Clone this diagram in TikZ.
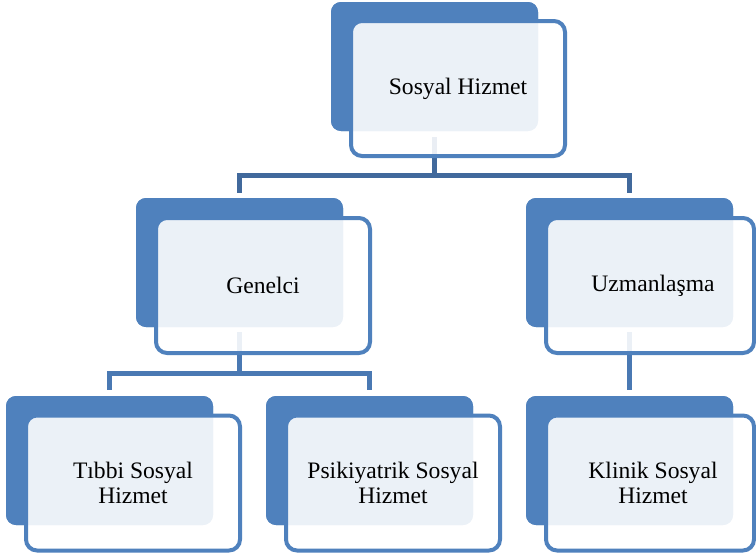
\documentclass[tikz,border=0pt]{standalone}
\usepackage{fontspec}
\setmainfont{Liberation Serif}
\usetikzlibrary{calc}
\definecolor{backblue}{HTML}{4F81BD}
\definecolor{connA}{HTML}{41699C}
\definecolor{connB}{HTML}{4A79B3}
\tikzset{
  backbox/.style={rectangle, rounded corners=10pt, fill=backblue, draw=none,
    minimum width=207pt, minimum height=129pt, inner sep=0pt, outer sep=0pt},
  frontbox/.style={rectangle, rounded corners=11pt, draw=backblue, line width=4pt,
    fill=white, fill opacity=0.89, text opacity=1,
    minimum height=135pt, inner sep=0pt, outer sep=0pt},
  lbl/.style={align=center, font=\fontsize{23.6}{24.5}\selectfont, text=black, inner sep=0pt},
  conn/.style={line width=5pt, line join=miter, line cap=butt},
}
\begin{document}
\begin{tikzpicture}[x=1pt,y=-1pt]
\fill[white] (0,0) rectangle (756,557);
\useasboundingbox (0,0) rectangle (756,557);

% back boxes (named, used for connectors)
\path (434.5,66.5) coordinate (c1);
\node[backbox] (b1) at (434.5,66.5) {};
\node[backbox] (b2) at (239.5,262.5) {};
\node[backbox] (b3) at (629.5,262.5) {};
\node[backbox] (b4) at (109.5,460.5) {};
\node[backbox] (b5) at (369.5,460.5) {};
\node[backbox] (b6) at (629.5,460.5) {};

% connectors
\draw[conn, connA] ($(b1.south)+(0,6)$) -- ++(0,38.5) -| ($(b2.north)+(0,-5)$);
\draw[conn, connA] ($(b1.south)+(0,6)$) -- ++(0,38.5) -| ($(b3.north)+(0,-5)$);
\draw[conn, connB] ($(b2.south)+(0,5)$) -- ++(0,41) -| ($(b4.north)+(0,-6)$);
\draw[conn, connB] ($(b2.south)+(0,5)$) -- ++(0,41) -| ($(b5.north)+(0,-6)$);
\draw[conn, connB] ($(b3.south)+(0,5)$) -- ($(b6.north)+(0,-6)$);

% redraw back boxes above connectors
\foreach \b in {b1,b2,b3,b4,b5,b6}{
  \fill[backblue, rounded corners=10pt] (\b.north west) rectangle (\b.south east);
}

% front boxes
\node[frontbox, minimum width=214pt] (f1) at (458,88.5) {};
\node[frontbox, minimum width=214pt] (f2) at (263,285.5) {};
\node[frontbox, minimum width=208pt] (f3) at (650,285.5) {};
\node[frontbox, minimum width=214pt] (f4) at (133,483) {};
\node[frontbox, minimum width=214pt] (f5) at (393,483) {};
\node[frontbox, minimum width=208pt] (f6) at (650,483) {};

% labels
\node[lbl] (t1) at (f1.center) {Sosyal Hizmet};
\node[lbl] (t2) at (f2.center) {Genelci};
\node[lbl] (t3) at (653,285.5) {Uzmanlaşma};
\node[lbl] (t4) at (f4.center) {Tıbbi Sosyal\\Hizmet};
\node[lbl] (t5) at (f5.center) {Psikiyatrik Sosyal\\Hizmet};
\node[lbl] (t6) at (653,483) {Klinik Sosyal\\Hizmet};
\end{tikzpicture}
\end{document}
